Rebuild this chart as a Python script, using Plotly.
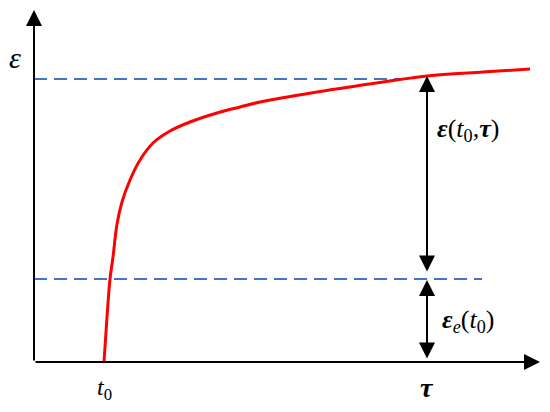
import plotly.graph_objects as go

# creep curve (origin at the axes corner)
curve_t = [70, 73, 76, 79, 83, 88, 96, 106, 119, 136, 156, 183, 206, 226, 283, 349, 393, 449, 496]
curve_eps = [0, 45, 83, 105, 138, 160, 182, 202, 219, 231, 240, 249, 255, 260, 270, 280, 286, 290, 293]

t0 = 70
tau = 393
eps_total = 283      # upper dashed level
eps_elastic = 83     # lower dashed level
upper_dash_end = 374
lower_dash_end = 448
x_axis_end = 506
y_axis_end = 352

RED = '#ff0000'
BLUE = '#4472c4'
SERIF = 'Liberation Serif'

fig = go.Figure()

fig.add_trace(go.Scatter(
    x=[0, upper_dash_end], y=[eps_total, eps_total],
    mode='lines', line=dict(color=BLUE, width=2, dash='13px,7px'),
    hoverinfo='skip',
))
fig.add_trace(go.Scatter(
    x=[0, lower_dash_end], y=[eps_elastic, eps_elastic],
    mode='lines', line=dict(color=BLUE, width=2, dash='13px,7px'),
    hoverinfo='skip',
))
fig.add_trace(go.Scatter(
    x=curve_t, y=curve_eps,
    mode='lines', line=dict(color=RED, width=3, shape='spline', smoothing=1),
))


def arrow(x0, y0, x1, y1, both=False):
    fig.add_annotation(
        x=x1, y=y1, ax=x0, ay=y0,
        xref='x', yref='y', axref='x', ayref='y',
        text='', showarrow=True,
        arrowhead=2, arrowsize=1.6, arrowwidth=2, arrowcolor='black',
        startarrowhead=2, startarrowsize=1.6,
        arrowside='end+start' if both else 'end',
    )


# axes
arrow(0, 0, x_axis_end, 0)
arrow(0, 0, 0, y_axis_end)
# dimension arrows
arrow(tau, 89, tau, 286, both=True)
arrow(tau, 2, tau, 82, both=True)


def label(x, y, text, size=22):
    fig.add_annotation(
        x=x, y=y, xref='x', yref='y', text=text, showarrow=False,
        font=dict(family=SERIF, size=size, color='black'),
    )


label(-19, 305, '<i>ε</i>', 30)
label(t0, -27, '<i>t</i><sub>0</sub>', 24)
label(tau, -25, '<b><i>τ</i></b>', 28)
label(434, 232, '<b><i>ε</i></b>(<i>t</i><sub>0</sub>,<b><i>τ</i></b>)', 26)
label(434, 41, '<b><i>ε</i></b><sub><i>e</i></sub>(<i>t</i><sub>0</sub>)', 26)

# the page body adds an 8px margin, so the ranges are shifted by 8px
fig.update_layout(
    width=550, height=412,
    margin=dict(l=0, r=0, t=0, b=0),
    paper_bgcolor='white', plot_bgcolor='white',
    showlegend=False,
    xaxis=dict(range=[-26, 524], visible=False),
    yaxis=dict(range=[-58, 354], visible=False),
)

fig.write_html("out.html")
